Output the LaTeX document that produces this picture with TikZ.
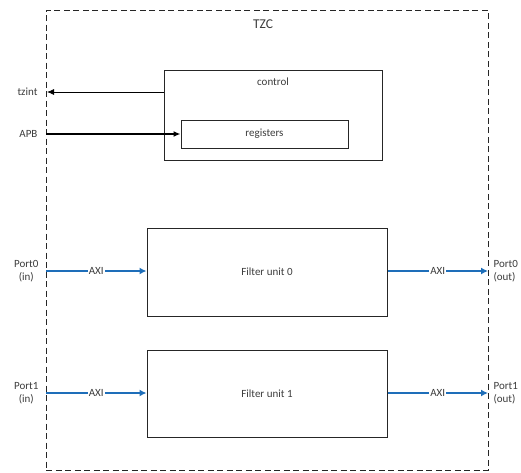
\documentclass[tikz,border=0pt]{standalone}
\usepackage{fontspec}
\setmainfont{Carlito}
\usetikzlibrary{arrows.meta}
\definecolor{axiblue}{RGB}{30,110,185}
\definecolor{txtgray}{RGB}{60,60,60}
\tikzset{
  blk/.style={draw=black!85, line width=1pt, inner sep=0pt},
  sig/.style={-{Latex[length=7pt,width=6pt]}, line width=0.8pt},
  axi/.style={-{Latex[length=7pt,width=7pt]}, draw=axiblue, line width=2.8pt},
  axilbl/.style={fill=white, inner sep=1pt, text=txtgray},
}
\begin{document}
\begin{tikzpicture}[x=1pt,y=-1pt,font=\fontsize{11}{13.5}\selectfont,text=txtgray]
      \useasboundingbox (0,0) rectangle (521,472);
      % outer block
      \node[blk, dash pattern=on 6pt off 3.5pt, minimum width=442pt, minimum height=460pt] (tzc) at (267,240) {};
      \node[font=\fontsize{13.5}{16}\selectfont] (tzclbl) at (263,24) {TZC};
      % control and registers
      \node[blk, minimum width=218pt, minimum height=90pt] (ctrl) at (273,115) {};
      \node (ctrllbl) at (273,82) {control};
      \node[blk, minimum width=167pt, minimum height=28pt] (regs) at (264.5,134) {registers};
      % filter units
      \node[blk, minimum width=240pt, minimum height=88pt] (fu0) at (267,272) {Filter unit 0};
      \node[blk, minimum width=240pt, minimum height=87pt] (fu1) at (267,393.5) {Filter unit 1};
      % edge points on the outer block
      \coordinate (tz) at (47,92);
      \coordinate (apb) at (46,134);
      \coordinate (p0in) at (46,271);
      \coordinate (p0out) at (488,271);
      \coordinate (p1in) at (46,393);
      \coordinate (p1out) at (488,393);
      % port labels
      \node[anchor=east] (tzintlbl) at (41,92) {tzint};
      \node[anchor=east] (apblbl) at (41,134) {APB};
      \node[align=center, anchor=east] (p0inlbl) at (42,271) {Port0\\(in)};
      \node[align=center, anchor=east] (p1inlbl) at (42,393) {Port1\\(in)};
      \node[align=left, anchor=west] (p0outlbl) at (490,271) {Port0\\(out)};
      \node[align=left, anchor=west] (p1outlbl) at (490,393) {Port1\\(out)};
      \begin{scope}
        \draw[sig] (ctrl.west |- tz) -- (tz);
        \draw[sig, line width=1.5pt] (apb) -- (regs.west);
        \draw[axi] (p0in) -- node[axilbl]{AXI} (fu0.west |- p0in);
        \draw[axi] (fu0.east |- p0out) -- node[axilbl]{AXI} (p0out);
        \draw[axi] (p1in) -- node[axilbl]{AXI} (fu1.west |- p1in);
        \draw[axi] (fu1.east |- p1out) -- node[axilbl]{AXI} (p1out);
      \end{scope}
    \end{tikzpicture}
\end{document}
